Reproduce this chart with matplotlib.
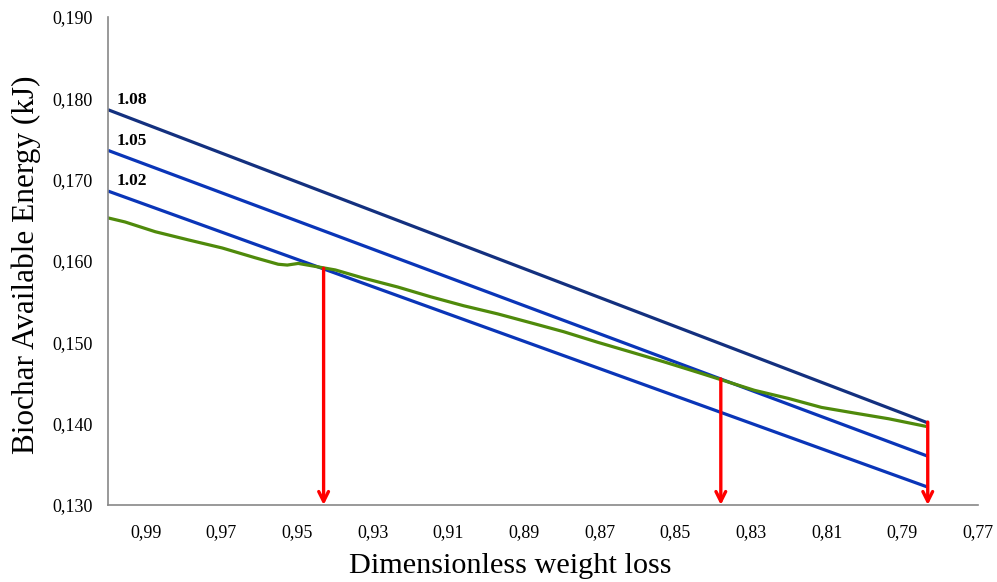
import matplotlib
matplotlib.use("Agg")
import matplotlib.pyplot as plt

# straight lines (factor * base), read at both ends
factors = ["1.02", "1.05", "1.08"]
line_x = [1.0, 0.7833]
line_y = {
    "1.02": [0.1686, 0.1322],
    "1.05": [0.1736, 0.1360],
    "1.08": [0.1786, 0.1401],
}
line_colors = {"1.02": "#0a35b8", "1.05": "#0a35b8", "1.08": "#13307f"}

# green curve
curve_x = [1.0, 0.9955, 0.9875, 0.9788, 0.9698, 0.9611, 0.9550, 0.9526, 0.9497,
           0.9460, 0.9399, 0.9325, 0.9234, 0.9147, 0.9060, 0.8970, 0.8882, 0.8795,
           0.8705, 0.8617, 0.8530, 0.8440, 0.8379, 0.8291, 0.8201, 0.8114, 0.8026,
           0.7936, 0.7841]
curve_y = [0.1653, 0.1648, 0.1636, 0.1626, 0.1616, 0.1604, 0.1596, 0.1595, 0.1597,
           0.1594, 0.1589, 0.1579, 0.1568, 0.1556, 0.1545, 0.1535, 0.1524, 0.1513,
           0.1500, 0.1488, 0.1476, 0.1463, 0.1454, 0.1441, 0.1431, 0.1420, 0.1413,
           0.1406, 0.1397]

# red arrows
arrow_x = [0.943, 0.838, 0.7833]
arrow_top = [0.1591, 0.1455, 0.1402]

xticks = [0.99, 0.97, 0.95, 0.93, 0.91, 0.89, 0.87, 0.85, 0.83, 0.81, 0.79, 0.77]
yticks = [0.130, 0.140, 0.150, 0.160, 0.170, 0.180, 0.190]

plt.rcParams["font.family"] = ["Liberation Serif", "DejaVu Serif"]

fig = plt.figure(figsize=(9.97, 5.82), dpi=100)
ax = fig.add_axes([0.1083, 0.1323, 0.8727, 0.8385])

for f in factors:
    ax.plot(line_x, line_y[f], color=line_colors[f], lw=2.3, solid_capstyle="butt")
    ax.text(line_x[0] - 0.0024, line_y[f][0] + 0.0002, f, fontsize=12.5,
            fontweight="bold", ha="left", va="bottom")

ax.plot(curve_x, curve_y, color="#4f8a0b", lw=2.3)

for xa, ya in zip(arrow_x, arrow_top):
    ax.annotate("", xy=(xa, 0.130), xytext=(xa, ya),
                arrowprops=dict(arrowstyle="->,head_length=0.7,head_width=0.35",
                                color="#ff0000", lw=2.4, shrinkA=0, shrinkB=0))

ax.set_xlim(1.0, 0.77)
ax.set_ylim(0.13, 0.19)
ax.set_xticks(xticks)
ax.set_xticklabels([f"{v:.2f}".replace(".", ",") for v in xticks])
ax.set_yticks(yticks)
ax.set_yticklabels([f"{v:.3f}".replace(".", ",") for v in yticks])
ax.tick_params(length=0, labelsize=13)
ax.tick_params(axis="y", pad=11)
ax.tick_params(axis="x", pad=14)

for s in ["top", "right"]:
    ax.spines[s].set_visible(False)
for s in ["left", "bottom"]:
    ax.spines[s].set_color("#888888")
    ax.spines[s].set_linewidth(1.2)

fig.text(0.512, 0.028, "Dimensionless weight loss", fontsize=21.8,
         ha="center", va="center")
fig.text(0.026, 1 - 265 / 582, "Biochar Available Energy (kJ)", fontsize=22.5,
         rotation=90, ha="center", va="center")

fig.savefig("out.png", dpi=100)
